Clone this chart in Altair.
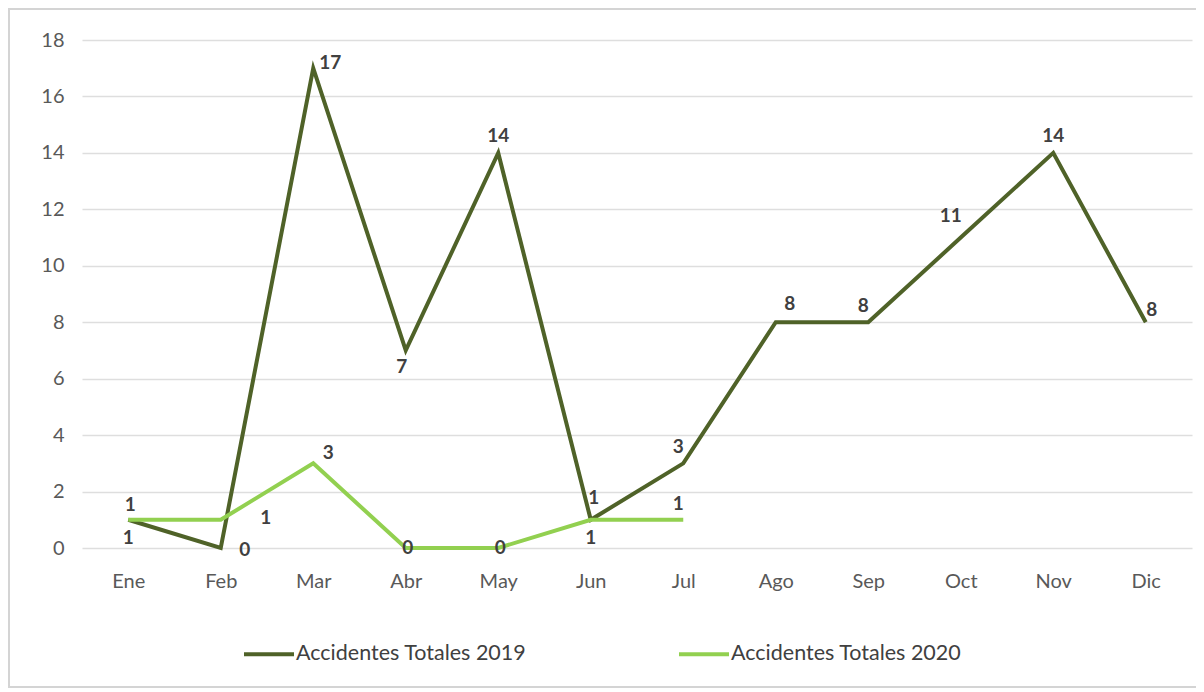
import altair as alt
import pandas as pd

months = ["Ene", "Feb", "Mar", "Abr", "May", "Jun", "Jul", "Ago", "Sep", "Oct", "Nov", "Dic"]
vals_2019 = [1, 0, 17, 7, 14, 1, 3, 8, 8, 11, 14, 8]
vals_2020 = [1, 1, 3, 0, 0, 1, 1]
series_names = ["Accidentes Totales 2019", "Accidentes Totales 2020"]
colors = ["#4f6228", "#92d050"]

# label placement codes (Excel-like placement of the data labels)
place_2019 = ["below", "right_low", "right_up", "below_l", "above", "below", "above_l",
              "above_r", "above_l", "above_l2", "above", "up_right"]
place_2020 = ["above_s", "right_far", "right_mid", "center", "center", "above_hi", "above_l"]

offsets = {
    "below": (0, 18), "below_l": (-4, 17), "right_low": (24, 2), "right_up": (17, -5),
    "above": (0, -17), "above_l": (-5, -16), "above_r": (14, -18), "above_l2": (-10, -22),
    "up_right": (6, -12), "above_s": (2, -15), "right_far": (45, -2), "right_mid": (15, -10),
    "center": (2, 0), "above_hi": (3, -22),
}

rows = []
for m, v, p in zip(months, vals_2019, place_2019):
    rows.append({"Mes": m, "Valor": v, "Serie": series_names[0], "pos": p})
for m, v, p in zip(months, vals_2020, place_2020):
    rows.append({"Mes": m, "Valor": v, "Serie": series_names[1], "pos": p})
df = pd.DataFrame(rows)

FONT = "Lato"

x_enc = alt.X("Mes:N", sort=months, scale=alt.Scale(type="point", padding=0.5),
              axis=alt.Axis(title=None, labelAngle=0, grid=False, domain=False, ticks=False,
                            labelPadding=23, labelFontSize=20, labelColor="#595959", labelFont=FONT))
y_enc = alt.Y("Valor:Q", scale=alt.Scale(domain=[0, 18], nice=False),
              axis=alt.Axis(title=None, values=list(range(0, 19, 2)), domain=False, ticks=False,
                            grid=True, gridColor="#dedede", gridWidth=1.5, labelPadding=18,
                            labelFontSize=20, labelColor="#595959", labelFont=FONT))

base = alt.Chart(df)

lines = base.mark_line(strokeWidth=4).encode(
    x=x_enc, y=y_enc,
    color=alt.Color("Serie:N", scale=alt.Scale(domain=series_names, range=colors),
                    legend=alt.Legend(title=None, orient="none", legendX=160, legendY=587,
                                      direction="horizontal", symbolType="stroke",
                                      symbolSize=2500, symbolStrokeWidth=4, labelFontSize=21.5,
                                      labelFont=FONT, labelColor="#404040", columnPadding=144,
                                      labelOffset=0, labelLimit=400)),
    order=alt.Order("Serie:N"),
)

texts = []
for code, (dx, dy) in offsets.items():
    t = base.transform_filter(alt.datum.pos == code).mark_text(
        dx=dx, dy=dy, fontSize=19, fontWeight="bold", font=FONT, color="#404040",
        align="center", baseline="middle"
    ).encode(x=alt.X("Mes:N", sort=months), y="Valor:Q", text="Valor:Q")
    texts.append(t)

border = alt.Chart(alt.Data(values=[{"a": 1}])).mark_rect(
    fill=None, stroke="#d4d4d4", strokeWidth=2
).encode(x=alt.value(-73), x2=alt.value(1116), y=alt.value(-31), y2=alt.value(647))

chart = alt.layer(border, lines, *texts).properties(
    width=1110, height=508,
    autosize=alt.AutoSizeParams(type="none"),
    padding={"left": 74, "top": 32, "right": 4, "bottom": 144},
).configure_view(stroke=None)

chart.save("out.html", embed_options={"renderer": "svg", "actions": False})
